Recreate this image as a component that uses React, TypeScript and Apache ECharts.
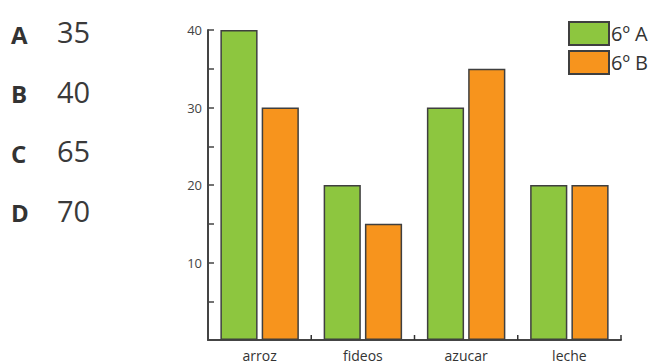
import React, { useEffect, useRef } from "react";
import * as echarts from "echarts";

const categories = ["arroz", "fideos", "azucar", "leche"];
const seriesA = [40, 20, 30, 20];
const seriesB = [30, 15, 35, 20];
const seriesNames = ["6º A", "6º B"];
const optionLetters = ["A", "B", "C", "D"];
const optionValues = ["35", "40", "65", "70"];

export default function App() {
  const ref = useRef<HTMLDivElement>(null);
  useEffect(() => {
    if (!ref.current) return;
    const chart = echarts.init(ref.current, null, { renderer: "svg" });
    const font = "'Open Sans', 'Noto Sans', sans-serif";
    const graphics: any[] = [];
    optionLetters.forEach((l, i) => {
      graphics.push({
        type: "text",
        left: 11,
        top: 22 + i * 59.5,
        style: { text: l, font: `bold 24px ${font}`, fill: "#333" },
      });
      graphics.push({
        type: "text",
        left: 57,
        top: 17 + i * 59.5,
        style: { text: optionValues[i], font: `29px ${font}`, fill: "#3a3a3a" },
      });
    });
    chart.setOption({
      animation: false,
      textStyle: { fontFamily: font },
      grid: { left: 208, right: 38, top: 30, bottom: 23, containLabel: false },
      legend: {
        orient: "vertical",
        left: 563,
        top: 16,
        icon: "rect",
        itemWidth: 40,
        itemHeight: 23,
        itemGap: 4,
        textStyle: { fontSize: 20, color: "#333", padding: [0, 0, 0, -3] },
        data: seriesNames,
      },
      xAxis: {
        type: "category",
        data: categories,
        axisLine: { show: true, lineStyle: { color: "#444", width: 2 } },
        axisTick: { show: false },
        axisLabel: { color: "#333", fontSize: 14, margin: 8 },
      },
      yAxis: {
        type: "value",
        min: 0,
        max: 40,
        interval: 5,
        axisLine: { show: true, lineStyle: { color: "#444", width: 2 } },
        axisTick: { show: true, inside: true, length: 6, lineStyle: { color: "#444", width: 1.5 } },
        splitLine: { show: false },
        axisLabel: {
          color: "#444",
          fontSize: 13,
          margin: 6,
          formatter: (v: number) => (v > 0 && v % 10 === 0 ? String(v) : ""),
        },
      },
      series: [
        {
          name: seriesNames[0],
          type: "bar",
          data: seriesA,
          barGap: "11%",
          barCategoryGap: "24%",
          itemStyle: { color: "#8dc63f", borderColor: "#3f3f3f", borderWidth: 1.5 },
        },
        {
          name: seriesNames[1],
          type: "bar",
          data: seriesB,
          itemStyle: { color: "#f7941d", borderColor: "#3f3f3f", borderWidth: 1.5 },
        },
        {
          name: "ticks",
          type: "custom",
          silent: true,
          z: 5,
          data: categories.map((_, i) => [i, 0]),
          renderItem: (params: any, api: any) => {
            const idx = api.value(0);
            const c = api.coord([idx, 0]);
            const w = api.size([1, 0])[0];
            const x = c[0] + w / 2;
            return {
              type: "line",
              shape: { x1: x, y1: c[1], x2: x, y2: c[1] - 5 },
              style: { stroke: "#333", lineWidth: 1.5 },
            };
          },
        },
      ],
      graphic: graphics,
    });
    return () => chart.dispose();
  }, []);
  return <div ref={ref} style={{ width: 659, height: 363, position: "absolute", left: 0, top: 0 }} />;
}
